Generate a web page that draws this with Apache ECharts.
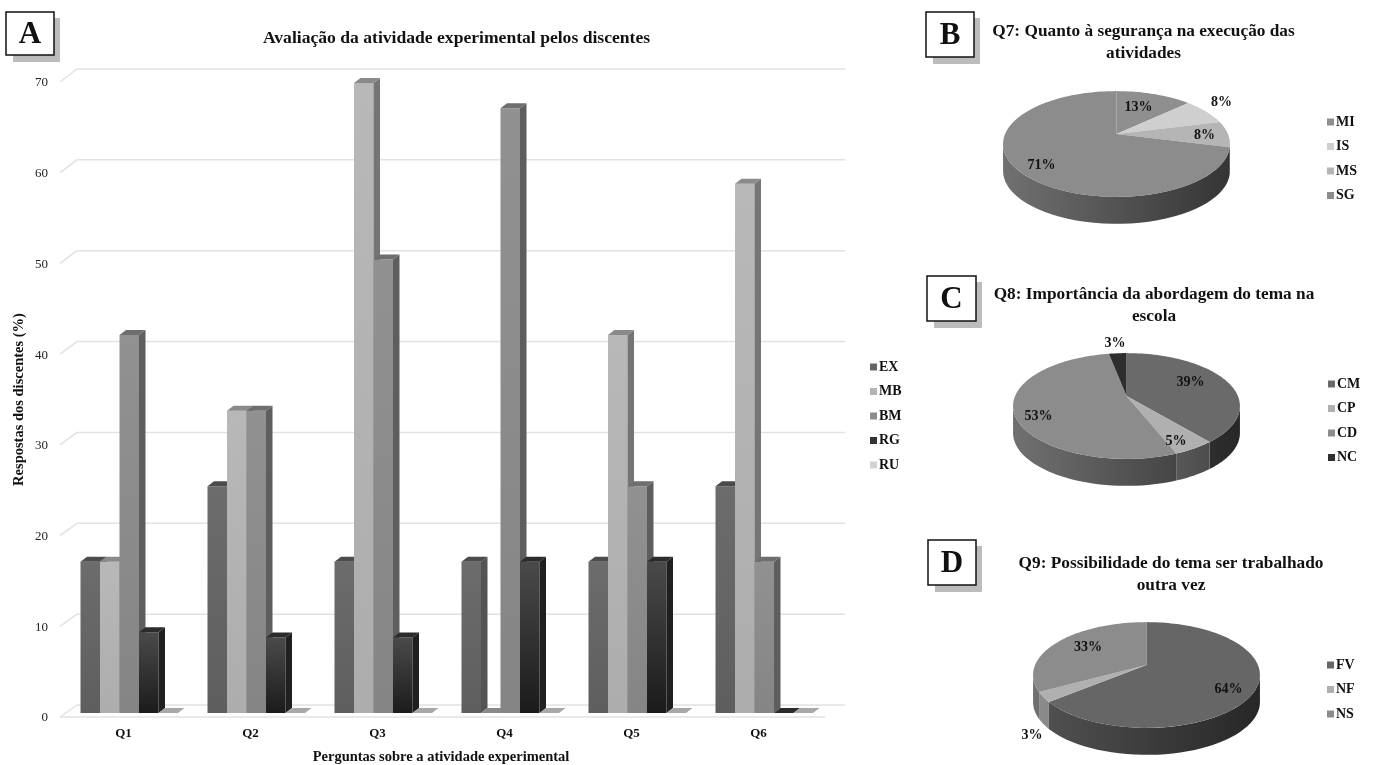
<!DOCTYPE html>
<html>
<head>
<meta charset="utf-8">
<title>Avaliação da atividade experimental</title>
<script src="https://cdn.jsdelivr.net/npm/echarts@6/dist/echarts.min.js"></script>
<style>
  html, body { margin: 0; padding: 0; background: #fff; }
  #main { width: 1376px; height: 765px; }
</style>
</head>
<body>
<div id="main"></div>
<script>
// data
var questions = ['Q1', 'Q2', 'Q3', 'Q4', 'Q5', 'Q6'];
var ticks = [0, 10, 20, 30, 40, 50, 60, 70];
var EX = [16.67, 25, 16.67, 16.67, 16.67, 25];
var MB = [16.67, 33.33, 69.44, 0, 41.67, 58.33];
var BM = [41.67, 33.33, 50, 66.67, 25, 16.67];
var RG = [8.9, 8.33, 8.33, 16.67, 16.67, 0];
var RU = [0, 0, 0, 0, 0, 0];

var q7Names = ['MI', 'IS', 'MS', 'SG'];
var q7Values = [13, 8, 8, 71];
var q8Names = ['CM', 'CP', 'CD', 'NC'];
var q8Values = [39, 5, 53, 3];
var q9Names = ['FV', 'NF', 'NS'];
var q9Values = [64, 3, 33];

var SERIF = '"Liberation Serif", "Times New Roman", serif';
var TXT = '#111';

// bar looks, same order as the series
var barNames = ['EX', 'MB', 'BM', 'RG', 'RU'];
var barValues = [EX, MB, BM, RG, RU];
var barLook = [
  { legend: '#666666', front: ['#6c6c6c', '#5e5e5e'], top: '#4c4c4c', side: '#545454' },
  { legend: '#b4b4b4', front: ['#b8b8b8', '#adadad'], top: '#8a8a8a', side: '#757575' },
  { legend: '#8c8c8c', front: ['#919191', '#858585'], top: '#6e6e6e', side: '#5e5e5e' },
  { legend: '#333333', front: ['#4a4a4a', '#1b1b1b'], top: '#2b2b2b', side: '#202020' },
  { legend: '#d2d2d2', front: ['#d2d2d2', '#c8c8c8'], top: '#a8a8a8', side: '#a8a8a8' }
];

// bar geometry as parts of one category band
var BAR_W = 19.5 / 127, BAR_START = 20.5 / 127, DEPTH_X = 6.5, DEPTH_Y = 5;

function poly(points, fill) {
  return { type: 'polygon', shape: { points: points }, style: { fill: fill } };
}

function barRenderer(idx) {
  var look = barLook[idx];
  return function (params, api) {
    var band = api.size([1, 0])[0];
    var c = api.coord([api.value(0), api.value(1)]);
    var base = api.coord([api.value(0), 0])[1];
    var w = band * BAR_W;
    var x = c[0] - band / 2 + band * BAR_START + idx * w;
    var y = c[1];
    var kids = [];
    if (base - y > 0.5) {
      kids.push(poly([[x, y], [x + w, y], [x + w, base], [x, base]], {
        type: 'linear', x: 0, y: 0, x2: 0, y2: 1,
        colorStops: [{ offset: 0, color: look.front[0] }, { offset: 1, color: look.front[1] }]
      }));
      kids.push(poly([[x + w, y], [x + w + DEPTH_X, y - DEPTH_Y], [x + w + DEPTH_X, base - DEPTH_Y], [x + w, base]], look.side));
    }
    kids.push(poly([[x, y], [x + DEPTH_X, y - DEPTH_Y], [x + w + DEPTH_X, y - DEPTH_Y], [x + w, y]], look.top));
    return { type: 'group', children: kids };
  };
}

// back wall lines and the slanted bit on the left
function frameRenderer(params, api) {
  var v = api.value(0);
  var y = api.coord([0, v])[1];
  var backY = y - 8 - v / 70;
  var frontY = y + 4;
  var line = { stroke: '#e2e2e2', lineWidth: 1.5 };
  var kids = [
    { type: 'line', shape: { x1: 77, y1: backY, x2: 845, y2: backY }, style: line },
    { type: 'line', shape: { x1: 77, y1: backY, x2: 60, y2: frontY }, style: line }
  ];
  if (v === 0) {
    kids.push({ type: 'line', shape: { x1: 60, y1: frontY, x2: 825, y2: frontY }, style: line });
  }
  return { type: 'group', children: kids };
}

// pies: tilted circle with a bit of perspective
var PIE_R = 111.4, PIE_S = 51, PIE_K = 0.189, PIE_DEPTH = 27;
var SIL = Math.acos(-PIE_K);

function pieXY(pie, t) {
  var w = 1 + PIE_K * Math.cos(t);
  return [pie.cx + PIE_R * Math.sin(t) / w, pie.cy - PIE_S * Math.cos(t) / w];
}

function shade(hex, f) {
  var n = parseInt(hex.slice(1), 16);
  var r = Math.round((n >> 16 & 255) * f), g = Math.round((n >> 8 & 255) * f), b = Math.round((n & 255) * f);
  return 'rgb(' + r + ',' + g + ',' + b + ')';
}

function sliceRenderer(pie, i) {
  return function (params, api) {
    var total = pie.values.reduce(function (a, b) { return a + b; }, 0);
    var before = pie.values.slice(0, i).reduce(function (a, b) { return a + b; }, 0);
    var a0 = before / total * Math.PI * 2;
    var a1 = (before + api.value(0)) / total * Math.PI * 2;
    var kids = [];
    // wall, only the part that faces us
    var w0 = Math.max(a0, SIL), w1 = Math.min(a1, Math.PI * 2 - SIL);
    if (w1 > w0) {
      var upper = [], lower = [];
      for (var s = 0; s <= 40; s++) {
        var p = pieXY(pie, w0 + (w1 - w0) * s / 40);
        upper.push(p);
        lower.unshift([p[0], p[1] + PIE_DEPTH]);
      }
      kids.push(poly(upper.concat(lower), {
        type: 'linear', global: true, x: pie.cx - PIE_R, y: 0, x2: pie.cx + PIE_R, y2: 0,
        colorStops: [
          { offset: 0, color: shade(pie.colors[i], 0.8) },
          { offset: 1, color: shade(pie.colors[i], 0.38) }
        ]
      }));
    }
    var pts = [[pie.cx, pie.cy]];
    var n = Math.max(2, Math.ceil((a1 - a0) * 30));
    for (var j = 0; j <= n; j++) pts.push(pieXY(pie, a0 + (a1 - a0) * j / n));
    kids.push(poly(pts, pie.colors[i]));
    kids.push({
      type: 'text', z2: 20,
      style: {
        text: Math.round(api.value(0)) + '%',
        x: pie.cx + pie.labels[i][0], y: pie.cy + pie.labels[i][1],
        align: 'center', verticalAlign: 'middle',
        font: 'bold 14px ' + SERIF, fill: TXT
      }
    });
    return { type: 'group', children: kids };
  };
}

var pies = [
  { cx: 1116.5, cy: 134, names: q7Names, values: q7Values,
    colors: ['#8f8f8f', '#cfcfcf', '#b5b5b5', '#8c8c8c'],
    labels: [[22, -27], [105, -32], [88, 1], [-75, 31]] },
  { cx: 1126.5, cy: 396, names: q8Names, values: q8Values,
    colors: ['#6a6a6a', '#b0b0b0', '#8c8c8c', '#2e2e2e'],
    labels: [[64, -14], [49.5, 45], [-88, 20], [-11.5, -53]] },
  { cx: 1146.5, cy: 665, names: q9Names, values: q9Values,
    colors: ['#666666', '#b0b0b0', '#8c8c8c'],
    labels: [[82, 24], [-114.5, 70], [-58.5, -18]] }
];

// series
var series = [{
  type: 'custom', silent: true, z: 1,
  data: ticks.map(function (t) { return [t]; }),
  encode: { y: 0 },
  renderItem: frameRenderer,
  clip: false
}];
barNames.forEach(function (name, idx) {
  series.push({
    name: name, type: 'custom', silent: true, z: 2,
    itemStyle: { color: barLook[idx].legend },
    data: barValues[idx].map(function (v, i) { return [i, v]; }),
    encode: { x: 0, y: 1 },
    renderItem: barRenderer(idx),
    clip: false
  });
});
pies.forEach(function (pie) {
  pie.names.forEach(function (name, i) {
    series.push({
      name: name, type: 'custom', coordinateSystem: 'none', silent: true, z: 3,
      itemStyle: { color: pie.colors[i] },
      data: [[pie.values[i]]],
      renderItem: sliceRenderer(pie, i)
    });
  });
});

function legendAt(names, left, top, gap) {
  return {
    data: names, left: left, top: top, orient: 'vertical', icon: 'rect',
    itemWidth: 7, itemHeight: 7, itemGap: gap, selectedMode: false, padding: 0,
    textStyle: { fontFamily: SERIF, fontWeight: 'bold', fontSize: 14, color: TXT, padding: [0, 0, 0, -3] }
  };
}

function titleAt(text, x, top, size) {
  return {
    text: text, left: x, top: top, textAlign: 'center', padding: 0,
    textStyle: { fontFamily: SERIF, fontWeight: 'bold', fontSize: size, color: TXT, lineHeight: 22 }
  };
}

function letterBox(letter, x, y, w, h) {
  return {
    type: 'group', children: [
      { type: 'rect', shape: { x: x + 7, y: y + 6, width: w - 1, height: h + 1 }, style: { fill: '#bcbcbc' } },
      { type: 'rect', shape: { x: x, y: y, width: w, height: h }, style: { fill: '#fff', stroke: '#111', lineWidth: 1.5 } },
      { type: 'text', style: { text: letter, x: x + w / 2, y: y + h / 2 + 1, align: 'center', verticalAlign: 'middle', font: 'bold 31px ' + SERIF, fill: '#111' } }
    ]
  };
}

var chart = echarts.init(document.getElementById('main'));
chart.setOption({
  animation: false,
  backgroundColor: '#fff',
  title: [
    titleAt('Avaliação da atividade experimental pelos discentes', 456.5, 27, 17.6),
    titleAt('Q7: Quanto à segurança na execução das\natividades', 1143.5, 21, 17.3),
    titleAt('Q8: Importância da abordagem do tema na\nescola', 1154, 284, 17.3),
    titleAt('Q9: Possibilidade do tema ser trabalhado\noutra vez', 1171, 553, 17.3)
  ],
  legend: [
    legendAt(barNames, 870, 360, 10.5),
    legendAt(q7Names, 1327, 115, 10.5),
    legendAt(q8Names, 1328, 377, 10.5),
    legendAt(q9Names, 1327, 658, 10.5)
  ],
  grid: { left: 60, top: 78, width: 762, height: 635, outerBoundsMode: 'none' },
  xAxis: {
    type: 'category', data: questions,
    name: 'Perguntas sobre a atividade experimental',
    nameLocation: 'middle', nameGap: 37,
    nameTextStyle: { fontFamily: SERIF, fontWeight: 'bold', fontSize: 14.5, color: TXT },
    axisLine: { show: false }, axisTick: { show: false },
    axisLabel: { fontFamily: SERIF, fontWeight: 'bold', fontSize: 13, color: TXT, margin: 14 }
  },
  yAxis: {
    type: 'value', min: 0, max: 70, interval: 10,
    name: 'Respostas dos discentes (%)',
    nameLocation: 'middle', nameGap: 33, nameRotate: 90, nameMoveOverlap: false,
    nameTextStyle: { fontFamily: SERIF, fontWeight: 'bold', fontSize: 14.5, color: TXT, padding: [0, 0, 0, -8] },
    axisLine: { show: false }, axisTick: { show: false }, splitLine: { show: false },
    axisLabel: { fontFamily: SERIF, fontSize: 13, color: '#222', margin: 12, verticalAlign: 'top', lineHeight: 10 }
  },
  graphic: [
    letterBox('A', 6, 12, 48, 43),
    letterBox('B', 926, 12, 48, 45),
    letterBox('C', 927, 276, 49, 45),
    letterBox('D', 928, 540, 48, 45)
  ],
  series: series
});
window.addEventListener('resize', function () { chart.resize(); });
</script>
</body>
</html>
